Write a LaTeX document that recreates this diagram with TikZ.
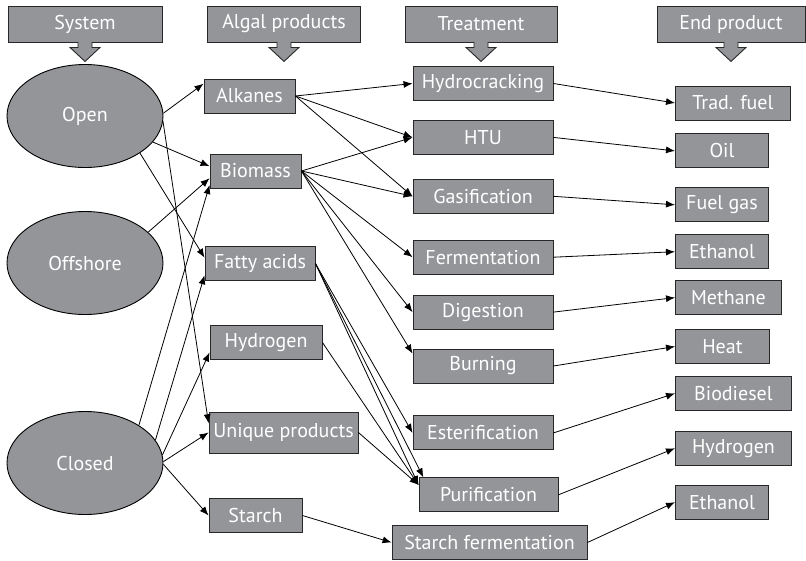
\documentclass[tikz,border=0pt]{standalone}
\usepackage{fontspec}
\setmainfont{PT Sans}
\usepackage{xcolor}
\definecolor{BoxGray}{RGB}{147,149,152}
\definecolor{EdgeGray}{RGB}{40,40,40}
\usepackage{tikz}
\usetikzlibrary{shapes.geometric, arrows.meta, positioning}
\tikzstyle{box} = [rectangle, text centered, draw=EdgeGray, fill=BoxGray, text=white, line width=0.9pt, minimum height=34pt, inner sep=1pt, font=\fontsize{20}{22}\selectfont]
\tikzstyle{head} = [box, minimum height=36pt]
\tikzstyle{sysnode} = [ellipse, text centered, draw=black, fill=BoxGray, text=white, line width=0.9pt, minimum width=156pt, minimum height=103pt, font=\fontsize{20}{22}\selectfont]
\tikzstyle{arrow} = [line width=0.8pt, -{Latex[length=9pt,width=7pt]}]
% little down-pointing tab under a column header
\newcommand{\downtab}[1]{\filldraw[fill=BoxGray, draw=EdgeGray, line width=0.9pt] ([xshift=-7pt,yshift=0.6pt]#1.south) -- ++(0,-5.6) -- ++(-8,0) -- ++(15,-14) -- ++(15,14) -- ++(-8,0) -- ++(0,5.6);}

\begin{document}
\begin{tikzpicture}[x=1pt, y=1pt]
  \useasboundingbox (0,0) rectangle (806,-560);

  % column headers
  \node (system) [head, minimum width=154pt] at (85,-24) {System};
  \node (algal) [head, minimum width=153pt] at (284,-24) {Algal products};
  \node (treatment) [head, minimum width=152pt] at (481,-24) {Treatment};
  \node (endprod) [head, minimum width=148pt] at (731,-24) {End product};
  \downtab{system}
  \downtab{algal}
  \downtab{treatment}
  \downtab{endprod}

  % cultivation systems
  \node (open) [sysnode] at (85,-116) {Open};
  \node (offshore) [sysnode] at (85,-263) {Offshore};
  \node (closed) [sysnode] at (85,-463) {Closed};

  % algal products
  \node (alkanes) [box, minimum width=91pt] at (249.5,-96) {Alkanes};
  \node (biomass) [box, minimum width=91pt] at (255.5,-171) {Biomass};
  \node (fatty) [box, minimum width=110pt] at (260,-263.5) {Fatty acids};
  \node (hydrogen) [box, minimum width=112pt] at (266,-342.5) {Hydrogen};
  \node (unique) [box, minimum width=149pt, minimum height=41pt] at (283.5,-432.5) {Unique products};
  \node (starch) [box, minimum width=93pt] at (255.5,-515.5) {Starch};

  % treatments
  \node (hydro) [box, minimum width=140pt] at (483,-83.5) {Hydrocracking};
  \node (htu) [box, minimum width=140pt, below=19pt of hydro] {HTU};
  \node (gas) [box, minimum width=140pt, below=24pt of htu] {Gasification};
  \node (ferm) [box, minimum width=140pt, below=26pt of gas] {Fermentation};
  \node (dig) [box, minimum width=140pt, below=20pt of ferm] {Digestion};
  \node (burn) [box, minimum width=140pt, below=19pt of dig] {Burning};
  \node (ester) [box, minimum width=140pt, below=32pt of burn] {Esterification};
  \node (purif) [box, minimum width=139pt, below=27pt of ester, xshift=5.5pt] {Purification};
  \node (sferm) [box, minimum width=195pt] at (489.5,-542.5) {Starch fermentation};

  % end products
  \node (trad) [box, minimum width=115pt, anchor=west] at (675,-103) {Trad. fuel};
  \node (oil) [box, minimum width=93pt, below=13pt of trad.south west, anchor=north west] {Oil};
  \node (fuelgas) [box, minimum width=93pt, below=19pt of oil.south west, anchor=north west] {Fuel gas};
  \node (ethanol) [box, minimum width=93pt, below=12pt of fuelgas.south west, anchor=north west] {Ethanol};
  \node (methane) [box, minimum width=106pt, below=11pt of ethanol.south west, anchor=north west] {Methane};
  \node (heat) [box, minimum width=94pt, below=14pt of methane.south west, anchor=north west] {Heat};
  \node (biodiesel) [box, minimum width=116pt, below=12pt of heat.south west, anchor=north west] {Biodiesel};
  \node (hydend) [box, minimum width=116pt, below=20pt of biodiesel.south west, anchor=north west] {Hydrogen};
  \node (ethanoltwo) [box, minimum width=93pt, below=19pt of hydend.south west, anchor=north west] {Ethanol};

  % system -> product
  \draw [arrow] (open.2) -- (alkanes.165);
  \draw [arrow] (open.-21) -- (biomass.174);
  \draw [arrow] (open.-34) -- (fatty.174);
  \draw [arrow] (open.-4) -- (unique.173);
  \draw [arrow] (offshore.26) -- (biomass.189);
  \draw [arrow] (closed.35) -- (biomass.197);
  \draw [arrow] (closed.18) -- (fatty.192);
  \draw [arrow] (closed.6) -- (hydrogen.190);
  \draw [arrow] (closed.1) -- (unique.west);
  \draw [arrow] (closed.-1) -- (starch.west);

  % product -> treatment
  \draw [arrow] (alkanes.east) -- (hydro.west);
  \draw [arrow] (alkanes.east) -- (htu.west);
  \draw [arrow] (alkanes.east) -- (gas.west);
  \draw [arrow] (biomass.east) -- (htu.west);
  \draw [arrow] (biomass.east) -- (gas.west);
  \draw [arrow] (biomass.east) -- (ferm.west);
  \draw [arrow] (biomass.east) -- (dig.west);
  \draw [arrow] (biomass.east) -- (burn.170);
  \draw [arrow] (fatty.east) -- (ester.west);
  \draw [arrow] (fatty.east) -- (purif.172);
  \draw [arrow] (fatty.east) -- (purif.165);
  \draw [arrow] (hydrogen.east) -- (purif.172);
  \draw [arrow] (unique.east) -- (purif.172);
  \draw [arrow] (starch.east) -- (sferm.west);

  % treatment -> end product
  \draw [arrow] (hydro.east) -- (trad.west);
  \draw [arrow] (htu.east) -- (oil.west);
  \draw [arrow] (gas.east) -- (fuelgas.west);
  \draw [arrow] (ferm.east) -- (ethanol.west);
  \draw [arrow] (dig.east) -- (methane.west);
  \draw [arrow] (burn.east) -- (heat.west);
  \draw [arrow] (ester.east) -- (biodiesel.west);
  \draw [arrow] (purif.east) -- (hydend.west);
  \draw [arrow] (sferm.east) -- (ethanoltwo.west);

\end{tikzpicture}
\end{document}
